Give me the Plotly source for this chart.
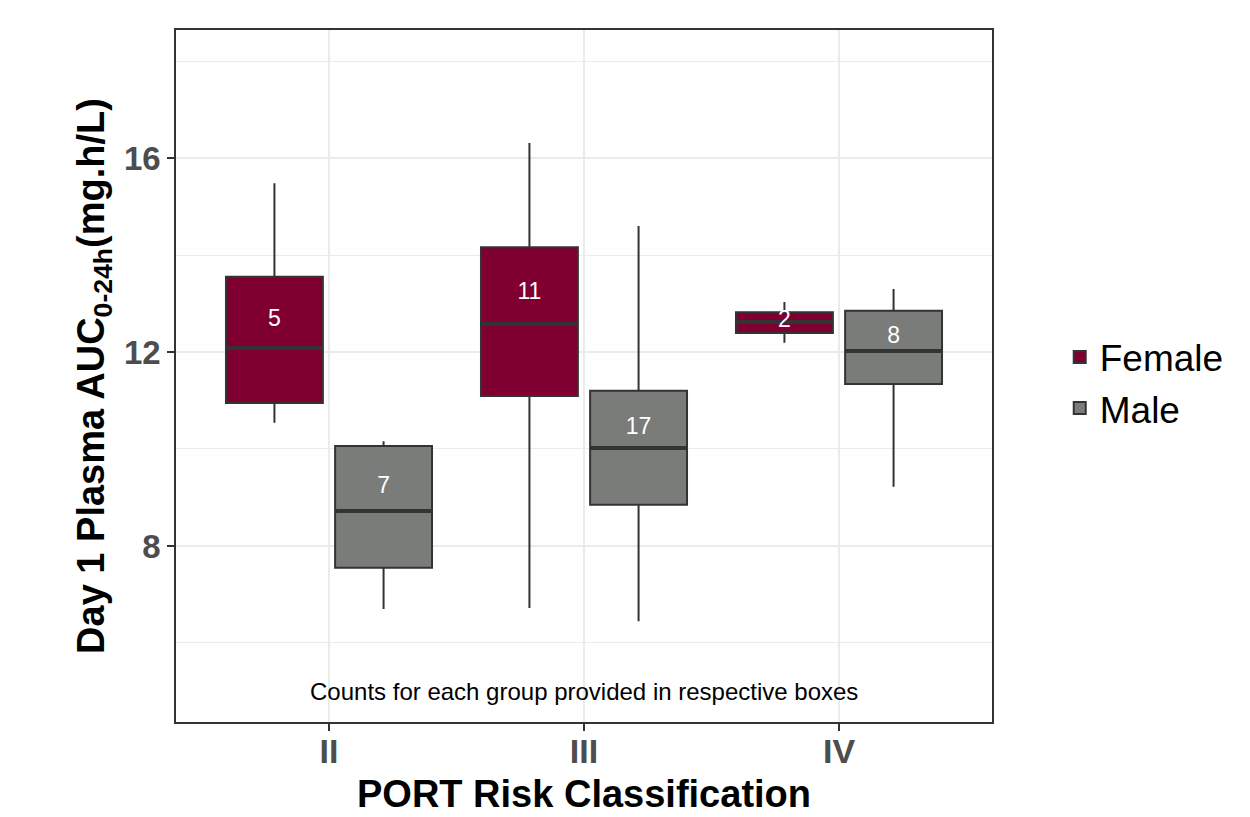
import plotly.graph_objects as go

# ---- data ----
categories = ["II", "III", "IV"]
sexes = ["Female", "Male"]

female_lower = [10.54, 6.72, 12.19]
female_q1 = [10.95, 11.09, 12.39]
female_median = [12.08, 12.58, 12.62]
female_q3 = [13.55, 14.16, 12.82]
female_upper = [15.48, 16.31, 13.03]
female_counts = [5, 11, 2]
female_label_y = [12.66, 13.22, 12.64]

male_lower = [6.70, 6.45, 9.22]
male_q1 = [7.55, 8.85, 11.34]
male_median = [8.72, 10.02, 12.02]
male_q3 = [10.06, 11.20, 12.85]
male_upper = [10.16, 14.60, 13.30]
male_counts = [7, 17, 8]
male_label_y = [9.22, 10.43, 12.31]

yticks = [8, 12, 16]
yminor = [6, 10, 14, 18]

x_title = "PORT Risk Classification"
y_title = "Day 1 Plasma AUC<sub>0-24h</sub>(mg.h/L)"
note = "Counts for each group provided in respective boxes"

# ---- style ----
FONT = "Liberation Sans, Arial, sans-serif"
COL_F = "#7F0030"
COL_M = "#7A7C7A"
EDGE = "#333333"
GRID = "#EBEBEB"
DODGE = 0.214
BOXW = 0.38

series = [
    ("Female", COL_F, -DODGE, female_lower, female_q1, female_median, female_q3, female_upper, female_counts, female_label_y),
    ("Male", COL_M, DODGE, male_lower, male_q1, male_median, male_q3, male_upper, male_counts, male_label_y),
]

fig = go.Figure()
base_x = list(range(1, len(categories) + 1))

for name, col, off, lo, q1, med, q3, up, cnt, ly in series:
    xs = [b + off for b in base_x]
    fig.add_trace(go.Box(
        name=name, x=xs, lowerfence=lo, q1=q1, median=med, q3=q3, upperfence=up,
        width=BOXW, fillcolor=col, line=dict(color=EDGE, width=2),
        whiskerwidth=0, boxpoints=False, hoverinfo="skip", showlegend=True,
    ))

for name, col, off, lo, q1, med, q3, up, cnt, ly in series:
    xs = [b + off for b in base_x]
    mx, my = [], []
    for x, m in zip(xs, med):
        mx += [x - BOXW / 2, x + BOXW / 2, None]
        my += [m, m, None]
    fig.add_trace(go.Scatter(
        x=mx, y=my, mode="lines", line=dict(color=EDGE, width=4),
        showlegend=False, hoverinfo="skip",
    ))
    fig.add_trace(go.Scatter(
        x=xs, y=ly, mode="text", text=[str(c) for c in cnt],
        textfont=dict(family=FONT, size=23, color="white"),
        textposition="middle center", showlegend=False, hoverinfo="skip",
    ))

fig.add_annotation(
    x=2, y=5.0, xref="x", yref="y", text=note,
    showarrow=False, font=dict(family=FONT, size=24, color="black"),
)

fig.add_annotation(
    x=0.5, y=-0.104, xref="paper", yref="paper", xanchor="center", yanchor="middle",
    text="<b>" + x_title + "</b>", showarrow=False,
    font=dict(family=FONT, size=38, color="black"),
)

fig.update_layout(
    width=1250, height=817,
    margin=dict(l=176, r=258, t=30, b=95),
    paper_bgcolor="white", plot_bgcolor="white",
    boxmode="overlay",
    font=dict(family=FONT),
    legend=dict(
        x=1.083, y=0.49, xanchor="left", yanchor="middle",
        font=dict(family=FONT, size=37, color="black"),
        bgcolor="rgba(0,0,0,0)", tracegroupgap=0, borderwidth=0,
    ),
    xaxis=dict(
        range=[0.4, 3.6], tickvals=base_x, ticktext=categories,
        showgrid=True, gridcolor=GRID, gridwidth=2,
        zeroline=False, showline=True, linecolor=EDGE, linewidth=1.5, mirror=True,
        ticks="outside", ticklen=7, tickwidth=2, tickcolor=EDGE,
        tickfont=dict(family=FONT, size=34, color="#4D4D4D", weight="bold"),
        automargin=False,
    ),
    yaxis=dict(
        range=[4.37, 18.64], tickvals=yticks,
        showgrid=True, gridcolor=GRID, gridwidth=2,
        minor=dict(tickvals=yminor, showgrid=True, gridcolor=GRID, gridwidth=1, ticks=""),
        zeroline=False, showline=True, linecolor=EDGE, linewidth=1.5, mirror=True,
        ticks="outside", ticklen=7, tickwidth=2, tickcolor=EDGE,
        tickfont=dict(family=FONT, size=33, color="#4D4D4D", weight="bold"),
        title=dict(text="<b>" + y_title + "</b>", standoff=8,
                   font=dict(family=FONT, size=38, color="black")),
        automargin=False,
    ),
)

try:
    fig.layout.xaxis.ticklabelstandoff = -9
except Exception:
    pass

fig.write_html(
    "out.html",
    config={"displayModeBar": False},
    post_script="document.body.style.margin='0';document.body.style.overflow='hidden';",
)
